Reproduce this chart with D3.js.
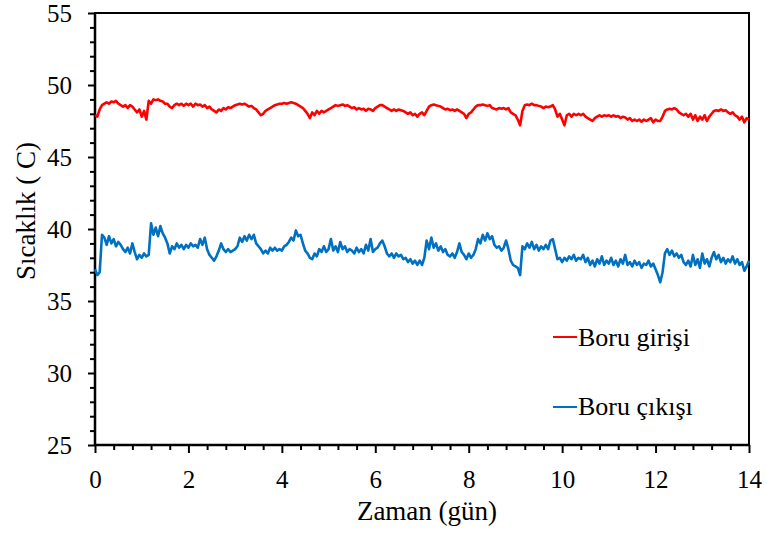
<!DOCTYPE html>
<html><head><meta charset="utf-8">
<script src="https://cdn.jsdelivr.net/npm/d3@7"></script>
<style>body{margin:0;background:#fff} svg text{font-family:"Liberation Serif","Times New Roman",serif;fill:#000}</style>
</head><body>
<svg id="c" width="766" height="538"></svg>
<script>
// sampling step in days (0.05)
const dayStep = 0.05;
const xTicks = [0, 2, 4, 6, 8, 10, 12, 14];
const yTicks = [25, 30, 35, 40, 45, 50, 55];
const seriesNames = ["Boru girişi", "Boru çıkışı"];
const seriesColors = ["#FF0000", "#0070C0"];
const yTitle = "Sıcaklık ( C)";
const xTitle = "Zaman (gün)";

const inletTemp = [
 47.9,47.8,48.3,48.6,48.7,48.8,48.7,48.85,48.8,48.9,48.7,48.6,48.5,48.6,48.4,48.6,48.5,48.3,48.1,48.3,
 47.8,48.2,47.6,48.9,48.7,49.0,48.95,49.0,48.9,48.85,48.7,48.7,48.5,48.4,48.6,48.7,48.6,48.7,48.55,48.7,
 48.6,48.7,48.5,48.7,48.6,48.65,48.5,48.6,48.4,48.5,48.3,48.2,48.1,48.3,48.2,48.4,48.3,48.45,48.4,48.5,
 48.6,48.65,48.7,48.65,48.7,48.6,48.5,48.55,48.4,48.3,48.1,47.9,48.0,48.2,48.3,48.4,48.5,48.6,48.65,48.7,
 48.7,48.75,48.7,48.75,48.8,48.75,48.7,48.6,48.5,48.4,48.2,48.0,47.7,48.1,47.9,48.2,48.0,48.2,48.1,48.2,
 48.3,48.4,48.5,48.6,48.55,48.6,48.65,48.55,48.6,48.5,48.4,48.45,48.3,48.4,48.3,48.35,48.2,48.35,48.3,48.2,
 48.4,48.5,48.6,48.6,48.5,48.4,48.3,48.2,48.3,48.2,48.3,48.25,48.2,48.1,48.0,48.1,47.9,48.0,47.8,48.0,
 48.1,47.9,48.2,48.5,48.6,48.65,48.6,48.55,48.5,48.4,48.3,48.35,48.25,48.3,48.2,48.3,48.2,48.1,48.0,47.7,
 48.0,48.1,48.3,48.5,48.6,48.6,48.65,48.6,48.55,48.6,48.4,48.35,48.3,48.4,48.35,48.4,48.3,48.4,48.1,48.0,
 47.9,47.6,47.2,48.2,48.6,48.65,48.6,48.7,48.6,48.6,48.55,48.5,48.4,48.5,48.45,48.5,48.6,48.3,47.8,48.0,
 47.6,47.2,47.9,48.0,47.8,48.0,47.9,48.0,47.9,48.0,47.8,47.7,47.6,47.5,47.7,47.8,47.9,47.8,47.9,47.85,
 47.9,47.8,47.9,47.8,47.85,47.7,47.8,47.75,47.6,47.7,47.5,47.6,47.5,47.6,47.45,47.6,47.5,47.6,47.7,47.4,
 47.6,47.5,47.5,47.8,48.2,48.3,48.35,48.3,48.4,48.3,48.1,48.0,47.9,48.0,47.8,48.0,47.6,47.9,47.5,47.8,
 47.6,47.9,47.5,47.8,48.0,48.2,48.25,48.2,48.3,48.2,48.25,48.1,48.0,48.1,47.9,47.8,47.6,47.8,47.4,47.7,
 47.6
];

const outletTemp = [
 37.2,36.8,37.0,39.6,39.4,38.9,39.5,39.0,39.3,38.8,39.1,38.9,38.6,38.4,38.7,38.3,39.0,38.4,37.9,38.2,
 38.0,38.3,38.1,38.2,40.4,39.6,40.1,39.5,40.2,39.7,39.4,39.0,38.3,38.8,38.6,39.0,38.7,38.9,38.6,38.9,
 38.7,39.0,38.8,38.9,38.7,39.3,38.9,39.4,38.6,38.2,38.0,37.8,38.1,38.5,39.0,38.6,38.4,38.6,38.4,38.5,
 38.6,38.8,39.4,39.1,39.5,39.2,39.6,39.3,39.6,39.0,38.8,38.6,38.3,38.5,38.3,38.7,38.5,38.7,38.5,38.6,
 38.5,38.8,38.9,39.1,39.4,39.2,39.9,39.5,39.6,39.0,38.5,38.3,38.0,37.9,38.3,38.1,38.6,38.4,38.8,38.4,
 38.6,39.3,38.5,38.8,38.4,39.1,38.6,38.8,38.4,38.6,38.5,38.3,38.7,38.4,38.6,38.3,38.9,38.5,39.3,38.4,
 38.6,38.7,39.0,39.2,38.8,38.3,38.1,38.3,38.0,38.3,38.1,38.2,37.9,38.0,37.7,37.9,37.6,37.8,37.5,37.8,
 37.5,38.0,39.2,38.6,39.4,38.7,39.0,38.5,38.8,38.4,38.6,38.2,38.1,38.3,38.0,38.4,39.0,38.4,38.2,37.9,
 38.3,38.0,38.2,38.6,39.3,39.0,39.6,39.2,39.7,39.3,39.5,38.9,38.7,38.8,38.5,38.7,39.2,38.6,37.8,37.5,
 37.4,37.3,36.8,38.8,38.6,39.0,38.7,39.1,38.6,38.9,38.5,38.8,38.6,38.9,38.6,39.2,39.3,38.6,37.9,38.0,
 37.7,38.0,37.8,38.1,37.9,38.2,37.8,38.0,37.9,38.2,37.7,38.0,37.5,37.8,37.4,37.9,37.6,38.1,37.5,37.8,
 37.6,38.0,37.5,37.8,37.4,37.9,37.6,38.2,37.5,37.7,37.4,37.8,37.5,37.7,37.3,37.6,37.5,37.8,37.4,37.6,
 37.2,36.8,36.3,37.0,38.3,38.6,38.2,38.5,38.1,38.3,38.0,38.2,37.7,37.5,37.8,37.4,38.2,37.5,37.9,37.3,
 38.3,37.6,37.9,37.4,38.0,38.4,37.9,38.2,37.7,38.0,37.6,37.9,37.7,38.1,37.6,37.9,37.5,37.7,37.1,37.4,
 37.8
];

const svg = d3.select("#c");
const L = 95, R = 749, T = 13, B = 445;
const x = d3.scaleLinear().domain([0, 14]).range([L, R]);
const y = d3.scaleLinear().domain([25, 55]).range([B, T]);

// frame
svg.append("rect").attr("x", L).attr("y", T).attr("width", R - L).attr("height", B - T)
  .attr("fill", "none").attr("stroke", "#000").attr("stroke-width", 2);

// minor ticks
const yMinor = d3.range(25, 55.01, 1).filter(v => v % 5 !== 0);
const xMinor = d3.range(0, 14.01, 0.4).map(v => +v.toFixed(2)).filter(v => Math.abs(v / 2 - Math.round(v / 2)) > 1e-6);

const gy = svg.append("g").attr("transform", `translate(${L},0)`)
  .call(d3.axisLeft(y).tickValues(yTicks).tickSize(7).tickPadding(16).tickFormat(d3.format("d")));
gy.append("g").call(d3.axisLeft(y).tickValues(yMinor).tickSize(5).tickFormat(""))
  .call(g => g.select(".domain").remove());
const gx = svg.append("g").attr("transform", `translate(0,${B})`)
  .call(d3.axisBottom(x).tickValues(xTicks).tickSize(8).tickPadding(17).tickFormat(d3.format("d")));
gx.append("g").call(d3.axisBottom(x).tickValues(xMinor).tickSize(5).tickFormat(""))
  .call(g => g.select(".domain").remove());

svg.selectAll(".domain").attr("stroke-width", 2.5);
gy.select(".domain").attr("d", `M0,${T}V${B}`);
gx.select(".domain").attr("d", `M${L},0H${R}`);
svg.selectAll(".tick line").attr("stroke-width", 2);
svg.selectAll(".tick text").attr("font-size", 25);

// lines
const line = d3.line().x((d, i) => x(i * dayStep)).y(d => y(d));
[inletTemp, outletTemp].forEach((s, k) => {
  svg.append("path").datum(s).attr("d", line).attr("fill", "none")
    .attr("stroke", seriesColors[k]).attr("stroke-width", 2.6).attr("stroke-linejoin", "round");
});

// legend
const legLineY = [337, 407];
const legTextY = [346, 415];
seriesNames.forEach((n, k) => {
  svg.append("line").attr("x1", 553).attr("x2", 577).attr("y1", legLineY[k]).attr("y2", legLineY[k])
    .attr("stroke", seriesColors[k]).attr("stroke-width", 2);
  svg.append("text").attr("x", 578).attr("y", legTextY[k]).text(n).attr("font-size", 26);
});

// titles
svg.append("text").attr("x", 427).attr("y", 520).attr("text-anchor", "middle")
  .attr("font-size", 27).text(xTitle);
svg.append("text").attr("transform", `translate(35,211) rotate(-90)`).attr("text-anchor", "middle")
  .attr("font-size", 27).text(yTitle);
</script>
</body></html>
